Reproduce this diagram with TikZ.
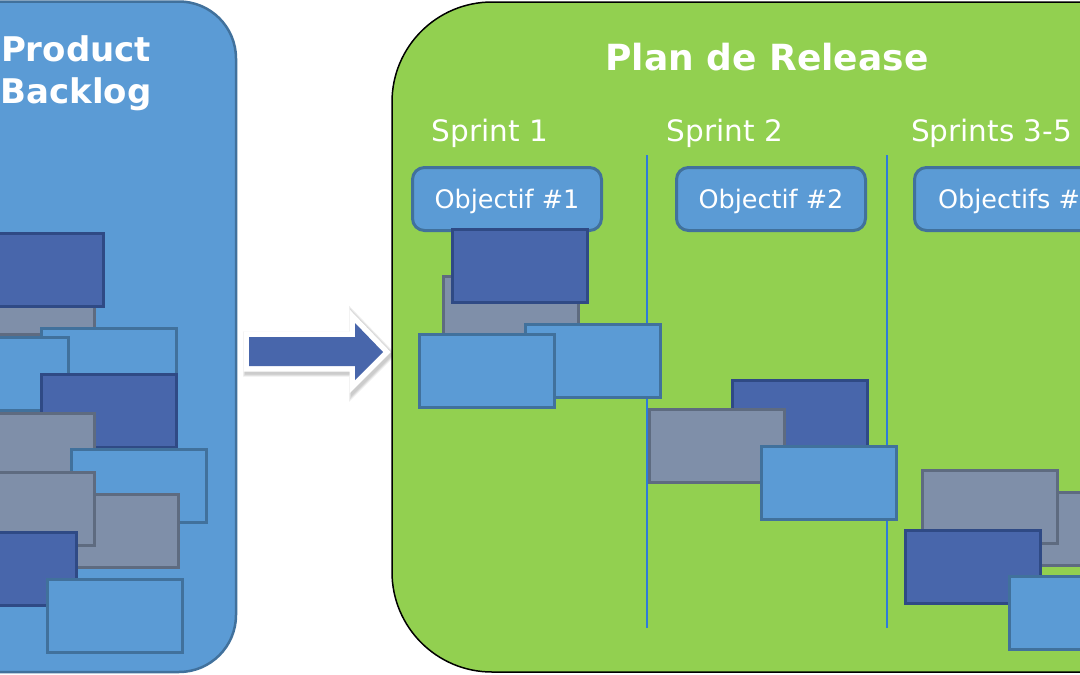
\documentclass[tikz,border=0pt]{standalone}
\usepackage{fontspec}
\setmainfont{DejaVu Sans}
\definecolor{panelblue}{HTML}{5B9BD5}
\definecolor{panelline}{HTML}{41719C}
\definecolor{darkcard}{HTML}{4866AB}
\definecolor{darkline}{HTML}{2F4A85}
\definecolor{graycard}{HTML}{7F8FA9}
\definecolor{grayline}{HTML}{5E6B80}
\definecolor{relgreen}{HTML}{92D050}
\definecolor{divblue}{HTML}{2E7BDB}
\begin{document}
\begin{tikzpicture}[x=1pt,y=-1pt,
  card/.style={rectangle, line width=3pt, minimum width=135pt, minimum height=73pt, inner sep=0pt},
  cdark/.style={card, fill=darkcard, draw=darkline},
  cgray/.style={card, fill=graycard, draw=grayline},
  clight/.style={card, fill=panelblue, draw=panelline},
  objbox/.style={rectangle, rounded corners=12pt, fill=panelblue, draw=panelline, line width=3pt,
    minimum width=189pt, minimum height=63pt, text=white, font=\fontsize{25.5}{30}\selectfont,
    text depth=0pt, inner sep=0pt},
  bigtitle/.style={text=white, font=\bfseries\fontsize{36}{42}\selectfont, inner sep=0pt, anchor=base},
  backtitle/.style={text=white, font=\bfseries\fontsize{34}{42}\selectfont, inner sep=0pt, anchor=base},
  sprinttxt/.style={text=white, font=\fontsize{29.5}{35}\selectfont, inner sep=0pt, anchor=base},
  divider/.style={draw=divblue, line width=1.5pt},
  arrowshadow/.style={draw=black, draw opacity=0.07, line join=miter, shift={(2,2.5)}}
]
\useasboundingbox (0,0) rectangle (1080,675);
\clip (0,0) rectangle (1080,675);
\fill[white] (0,0) rectangle (1080,675);

% ---- Product Backlog panel ----
\draw[fill=panelblue, draw=panelline, line width=2.5pt, rounded corners=57pt] (-200,1.5) rectangle (236,672);
\node[backtitle] (prod) at (76,61) {Product};
\node[backtitle] (back) at (76,103) {Backlog};

\node[cgray]  (b1)  at (27,298) {};
\node[cdark]  (b2)  at (36,269.5) {};
\node[clight] (b3)  at (109,365) {};
\node[clight] (b4)  at (1,374) {};
\node[cdark]  (b5)  at (109,411) {};
\node[cgray]  (b6)  at (27,450) {};
\node[clight] (b7)  at (139,485.5) {};
\node[cgray]  (b8)  at (111,531) {};
\node[cgray]  (b9)  at (27,509) {};
\node[cdark]  (b10) at (9,569) {};
\node[clight] (b11) at (114.5,615.5) {};

% ---- arrow ----
\foreach \w in {16,14,12}{
\path[arrowshadow, line width=\w pt]
  (249,337) -- (355,337) -- (355,323) -- (383,352) -- (355,380) -- (355,366) -- (249,366) -- cycle;
}
\path[draw=white, line width=11pt, line join=miter]
  (249,337) -- (355,337) -- (355,323) -- (383,352) -- (355,380) -- (355,366) -- (249,366) -- cycle;
\fill[darkcard]
  (249,337) -- (355,337) -- (355,323) -- (383,352) -- (355,380) -- (355,366) -- (249,366) -- cycle;

% ---- Plan de Release panel ----
\draw[fill=relgreen, draw=black, line width=1.5pt, rounded corners=100pt] (392,2) rectangle (1250,672);
\node[bigtitle] (plan) at (767,70) {Plan de Release};

\node[sprinttxt] (s1) at (490,141) {Sprint 1};
\node[sprinttxt] (s2) at (725,141) {Sprint 2};
\node[sprinttxt] (s3) at (991.5,141) {Sprints 3-5};

\draw[divider] (647,155) -- (647,628);
\draw[divider] (887,155) -- (887,628);

\node[objbox] (o1) at (507,199) {Objectif \#1};
\node[objbox] (o2) at (771,199) {Objectif \#2};
\node[objbox] (o3) at (1009,199) {Objectifs \#};

% sprint 1 cards
\node[cgray]  (r1) at (510.5,313) {};
\node[cdark]  (r2) at (519.5,266) {};
\node[clight] (r3) at (592.5,361) {};
\node[clight] (r4) at (486.5,370.5) {};
% sprint 2 cards
\node[cdark]  (r5) at (799.5,417) {};
\node[cgray]  (r6) at (717,446) {};
\node[clight] (r7) at (829,482.5) {};
% sprints 3-5 cards
\node[cgray]  (r8)  at (1059,529) {};
\node[cgray]  (r9)  at (990,506.5) {};
\node[cdark]  (r10) at (972.5,566.5) {};
\node[clight] (r11) at (1077,613) {};
\end{tikzpicture}
\end{document}
